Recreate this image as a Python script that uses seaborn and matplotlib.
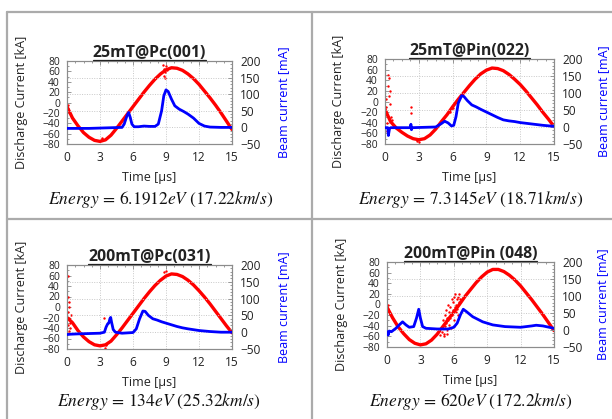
import numpy as np
import pandas as pd
import matplotlib
matplotlib.use("Agg")
import matplotlib.pyplot as plt
from matplotlib.lines import Line2D
from matplotlib.ticker import MultipleLocator, AutoMinorLocator
import seaborn as sns

sns.set_theme(style="white")
plt.rcParams['font.family'] = ['Open Sans', 'DejaVu Sans']
plt.rcParams['mathtext.fontset'] = 'stix'

# ---------------- data ----------------
titles = ["25mT@Pc(001)", "25mT@Pin(022)", "200mT@Pc(031)", "200mT@Pin (048)"]
energies = [r"$Energy\,=\,6.1912eV\ (17.22km/s)$",
            r"$Energy\,=\,7.3145eV\ (18.71km/s)$",
            r"$Energy\,=\,134eV\ (25.32km/s)$",
            r"$Energy\,=\,620eV\ (172.2km/s)$"]

red_t = [0, 0.5, 1, 1.5, 2, 2.5, 3, 3.5, 4, 4.5, 5, 5.5, 6, 6.5, 7, 7.5,
         8, 8.5, 9, 9.5, 10, 10.5, 11, 11.5, 12, 12.5, 13, 13.5, 14, 14.5, 15]
red1 = [-8, -30, -45, -58, -67, -73, -75, -72, -63, -50, -36, -22, -8, 6, 20, 33,
        45, 55, 63, 67, 66, 62, 55, 46, 35, 22, 9, -5, -20, -36, -52]
red2 = [-15, -38, -50, -58, -65, -70, -72, -70, -63, -52, -38, -25, -10, 4, 17, 30,
        42, 52, 59, 63, 62, 58, 51, 42, 32, 20, 7, -6, -20, -33, -47]
red3 = [-20, -30, -45, -57, -66, -72, -74, -72, -65, -53, -40, -26, -12, 2, 16, 29,
        41, 51, 59, 63, 62, 58, 51, 42, 31, 19, 6, -8, -22, -36, -49]
red4 = [-5, -25, -42, -55, -66, -73, -76, -74, -67, -56, -42, -28, -14, 0, 15, 28,
        41, 52, 61, 66, 66, 62, 55, 46, 35, 22, 9, -5, -19, -34, -49]

blue1_t = [0, 2, 4, 5, 5.2, 5.45, 5.6, 5.75, 5.9, 6.1, 6.5, 7.0, 7.5, 8.0, 8.3, 8.6,
           8.8, 9.0, 9.2, 9.5, 9.8, 10.2, 10.6, 11.0, 11.5, 12, 12.5, 13, 14, 15]
blue1 = [-3, -3, -1, 0, 10, 35, 45, 30, 10, 2, 2, 4, 3, 3, 10, 50,
         95, 113, 108, 85, 65, 55, 48, 40, 28, 12, 4, 1, 0, 0]

blue2_t = [0, 0.25, 0.3, 0.4, 0.5, 2.25, 2.3, 2.35, 2.4, 4.5, 5.0, 5.3, 5.6, 5.9, 6.1,
           6.3, 6.5, 6.8, 7.0, 7.3, 7.7, 8.1, 8.5, 9.0, 9.5, 10.0, 10.5, 11, 11.5,
           12, 13, 14, 15]
blue2 = [-2, -2, -25, -5, -2, -2, 8, -8, -2, 0, 10, 17, 12, 3, 5,
         30, 70, 92, 90, 78, 65, 59, 52, 44, 36, 28, 21, 18, 16,
         13, 9, 5, 2]

blue3_t = [0, 0.3, 1, 2, 3, 3.4, 3.55, 3.7, 3.8, 3.9, 3.97, 4.05, 4.2, 4.4, 5, 6,
           6.3, 6.6, 6.9, 7.1, 7.4, 7.8, 8.2, 8.6, 9, 9.5, 10, 10.5, 11, 12, 13, 14, 15]
blue3 = [-7, -6, -5, -4, -3, 0, 15, 25, 27, 40, 44, 30, 8, 0, -3, -1,
         10, 40, 63, 62, 50, 40, 36, 31, 27, 22, 17, 13, 10, 5, 2, 0, 0]

blue4_t = [0, 0.1, 0.2, 0.4, 0.8, 1.1, 1.4, 1.7, 2.0, 2.4, 2.65, 2.85, 3.0, 3.2, 3.5,
           4.5, 5.5, 6.0, 6.3, 6.6, 6.85, 7.1, 7.7, 8.6, 9.5, 10.6, 12, 13, 13.4, 14, 15]
blue4 = [-5, -15, -3, -5, 5, 15, 24, 15, 8, 10, 35, 61, 35, 10, 5,
         3, 3, 8, 20, 45, 61, 55, 39, 24, 15, 10, 8, 12, 14, 12, 5]

noise1_t = [8.7, 8.8, 8.9, 8.85, 9.0, 8.95, 9.05, 3.2, 3.22, 0.05, 0.1]
noise1 = [72, 65, 58, 52, 70, 48, 62, -68, -71, -5, -12]
noise2_t = [0.1, 0.15, 0.2, 0.3, 0.35, 0.25, 0.4, 0.45, 0.5, 0.3, 0.2, 0.1, 0.05,
            0.6, 0.35, 2.3, 2.35, 5.8, 5.9, 6.0, 2.8, 3.0, 14.9]
noise2 = [-10, -25, -40, 50, 45, 30, 20, -5, -30, -60, -55, 5, -20,
          -35, 10, -10, -22, -20, -15, -12, -75, -76, -42]
noise3_t = [0.05, 0.1, 0.1, 0.15, 0.2, 0.25, 0.1, 0.3, 0.2, 0.05, 0.15, 0.35,
            3.4, 3.5, 3.55, 3.45, 9.0, 8.8]
noise3 = [60, 20, -10, 0, -20, -40, -50, -30, 10, -35, -45, -15,
          -20, -73, -70, -78, 68, 66]
noise4_t = [4.9, 5.0, 5.0, 5.1, 5.2, 5.2, 5.3, 5.3, 5.4, 5.4, 5.5, 5.5, 5.6, 5.6,
            5.7, 5.7, 5.8, 5.8, 5.9, 5.9, 6.0, 6.0, 6.1, 6.1, 6.2, 6.2, 6.3, 6.3,
            6.4, 6.4, 6.5, 6.5, 6.6, 5.1, 4.8, 5.35, 5.75, 6.05, 0.05, 0.1]
noise4 = [-52, -45, -30, -55, -40, -20, -35, -10, -48, -25, -30, 0, -15, -38,
          -5, -25, -20, 10, -10, 5, -30, 15, -5, 20, 0, -15, 10, -8,
          15, -20, 5, 20, 10, -60, -58, -55, -45, -40, 0, -8]

x_ticks = [0, 3, 6, 9, 12, 15]
left_ticks = [-80, -60, -40, -20, 0, 20, 40, 60, 80]
right_ticks = [-50, 0, 50, 100, 150, 200]

reds = [red1, red2, red3, red4]
blues = [(blue1_t, blue1), (blue2_t, blue2), (blue3_t, blue3), (blue4_t, blue4)]
noises = [(noise1_t, noise1), (noise2_t, noise2), (noise3_t, noise3), (noise4_t, noise4)]

# ---------------- layout (pixels) ----------------
W, H = 612, 419
fig = plt.figure(figsize=(W / 100, H / 100), dpi=100)
fig.patch.set_facecolor("white")

def frect(x0, y0, x1, y1):
    return [x0 / W, 1 - y1 / H, (x1 - x0) / W, (y1 - y0) / H]

axes_px = [(67, 61, 232, 144), (385, 59, 554, 144), (67, 265, 232, 349), (387, 262, 554, 347)]
energy_pos = [(161, 200), (471, 200), (159, 401), (471, 401)]
left_label_x = [28, 345, 28, 348]     # right edge of rotated label (px)
right_label_x = [277, 597, 277, 596]  # left edge of rotated label (px)

# panel borders
bc = "#ababab"
for (xs, ys) in [([7, 7], [12, H]), ([7, W], [12, 12]), ([312, 312], [12, H]), ([7, W], [219, 219])]:
    fig.add_artist(Line2D([x / W for x in xs], [1 - y / H for y in ys], color=bc, lw=1.6))

title_objs = []
for i in range(4):
    x0, y0, x1, y1 = axes_px[i]
    ax = fig.add_axes(frect(*axes_px[i]))
    ax2 = ax.twinx()
    dfr = pd.DataFrame({"t": red_t, "I": reds[i]})
    dfn = pd.DataFrame({"t": noises[i][0], "I": noises[i][1]})
    dfb = pd.DataFrame({"t": blues[i][0], "B": blues[i][1]})
    sns.lineplot(data=dfr, x="t", y="I", ax=ax, color="red", lw=2.4, zorder=3)
    sns.scatterplot(data=dfn, x="t", y="I", ax=ax, color="red", s=3, linewidth=0, zorder=3)
    sns.lineplot(data=dfb, x="t", y="B", ax=ax2, color="blue", lw=2.0, zorder=4)

    ax.set_xlim(0, 15)
    ax.set_ylim(-80, 80)
    ax2.set_ylim(-50, 200)
    ax.set_xticks(x_ticks)
    ax.set_yticks(left_ticks)
    ax2.set_yticks(right_ticks)
    ax.xaxis.set_minor_locator(AutoMinorLocator(4))
    ax.yaxis.set_minor_locator(AutoMinorLocator(2))
    ax2.yaxis.set_minor_locator(AutoMinorLocator(5))

    ax.grid(True, axis="x", color="#c8c8c8", ls=(0, (1, 1.5)), lw=0.7)
    ax2.grid(True, axis="y", color="#c8c8c8", ls=(0, (1, 1.5)), lw=0.7)
    ax.set_axisbelow(True)

    ax.tick_params(axis="both", which="both", direction="in", top=True,
                   color="#888888", length=3, width=0.6, labelcolor="#222222")
    ax.tick_params(axis="y", labelsize=7.4, pad=5)
    ax.tick_params(axis="x", labelsize=8.6, pad=5)
    ax.tick_params(which="minor", length=1.5)
    ax2.tick_params(axis="y", which="both", direction="in", labelsize=8.6,
                    color="#888888", pad=6, length=3, width=0.6, labelcolor="#222222")
    ax2.tick_params(which="minor", length=1.5)
    for a in (ax, ax2):
        for sp in a.spines.values():
            sp.set_color("#8c8c8c")
            sp.set_linewidth(0.8)

    ax.set_xlabel("Time [µs]", fontsize=9, labelpad=5, color="#222222")
    ax.set_ylabel("Discharge Current [kA]", fontsize=9, color="#222222")
    ax2.set_ylabel("Beam current [mA]", fontsize=9, color="blue")
    ax.yaxis.set_label_coords((left_label_x[i] - x0) / (x1 - x0), 0.5)
    ax2.yaxis.set_label_coords((right_label_x[i] - x0) / (x1 - x0), 0.5)

    t = ax.set_title(titles[i], fontsize=11.4, fontweight="bold", pad=3, color="#222222")
    title_objs.append(t)

    ex, ey = energy_pos[i]
    fig.text(ex / W, 1 - ey / H, energies[i], fontsize=12.5, ha="center", va="center",
             color="#111111")

# underline titles
fig.canvas.draw()
r = fig.canvas.get_renderer()
for t in title_objs:
    bb = t.get_window_extent(renderer=r)
    y = bb.y0 + 1.0
    fig.add_artist(Line2D([bb.x0 / W, bb.x1 / W], [y / H, y / H], color="#222222", lw=0.9))

fig.savefig("out.png", dpi=100, facecolor="white")
